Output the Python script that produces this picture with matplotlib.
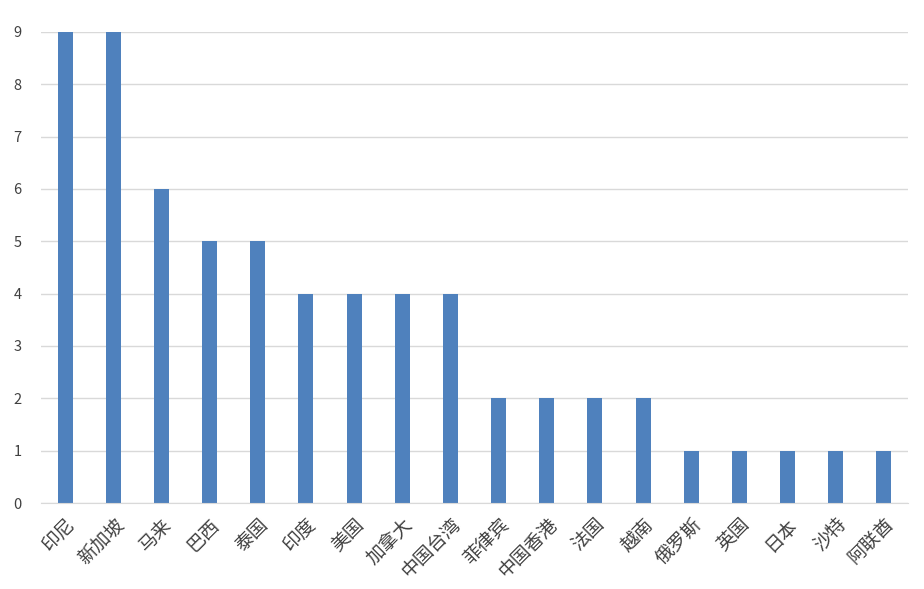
import matplotlib
matplotlib.use("Agg")
from matplotlib import pyplot as plt

plt.rcParams['font.family'] = ['Noto Sans CJK SC', 'DejaVu Sans']

regions = ['印尼', '新加坡', '马来', '巴西', '泰国', '印度', '美国', '加拿大', '中国台湾',
           '菲律宾', '中国香港', '法国', '越南', '俄罗斯', '英国', '日本', '沙特', '阿联酋']
counts = [9, 9, 6, 5, 5, 4, 4, 4, 4, 2, 2, 2, 2, 1, 1, 1, 1, 1]
yticks = list(range(0, 10))

fig = plt.figure(figsize=(9.24, 5.89), dpi=100)
ax = fig.add_axes([0.0444, 0.146, 0.9383, 0.7997])

x = range(len(regions))
ax.bar(x, counts, width=0.31, color='#4f81bd', zorder=3)

ax.set_xlim(-0.5, len(regions) - 0.5)
ax.set_ylim(0, 9)
ax.set_yticks(yticks)
ax.set_xticks(list(x))
ax.set_xticklabels(regions, rotation=45, ha='right', rotation_mode='anchor',
                   fontsize=13.5, color='#404040')
ax.tick_params(axis='y', labelsize=10.5, labelcolor='#404040', length=0, pad=14)
ax.tick_params(axis='x', length=0, pad=8)

ax.grid(axis='y', color='#d9d9d9', linewidth=1, zorder=0)
for s in ['top', 'right', 'left']:
    ax.spines[s].set_visible(False)
ax.spines['bottom'].set_color('#d9d9d9')
ax.spines['bottom'].set_zorder(4)

fig.savefig('out.png', dpi=100)
